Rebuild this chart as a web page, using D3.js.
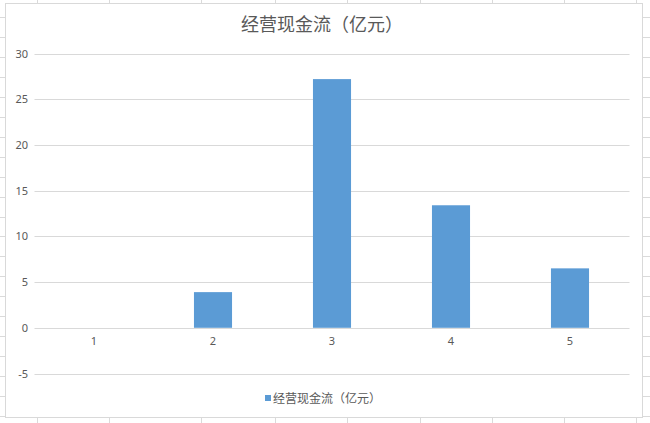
<!DOCTYPE html>
<html lang="zh">
<head>
<meta charset="UTF-8">
<title>经营现金流（亿元）</title>
<style>
  body{margin:0;background:#fff;font-family:'Noto Sans CJK SC','Noto Sans',sans-serif}
  svg{display:block}
  .cell line{stroke:#dadada;stroke-width:1}
  .grid line{stroke:#d9d9d9;stroke-width:1}
  .tick text{fill:#595959}
</style>
</head>
<body>
<div id="chart"></div>
<script src="https://cdn.jsdelivr.net/npm/d3@7"></script>
<script>
/* datos */
const categories = ["1","2","3","4","5"];
const values     = [0, 3.9, 27.2, 13.4, 6.5];
const yTicks     = [-5, 0, 5, 10, 15, 20, 25, 30];
const seriesName = "经营现金流（亿元）";

/* hoja de cálculo de fondo (decoración) */
const colLines = [37,109,201,275,347,420,492,564,636];
const rowStep  = 19.95, rowStart = 17;

const W=650, H=423;
const svg=d3.select("#chart").append("svg").attr("width",W).attr("height",H);

const cell=svg.append("g").attr("class","cell");
cell.selectAll("line.c").data(colLines).enter().append("line")
    .attr("x1",d=>d+.5).attr("x2",d=>d+.5).attr("y1",0).attr("y2",H);
cell.selectAll("line.r").data(d3.range(rowStart,H,rowStep)).enter().append("line")
    .attr("x1",0).attr("x2",W).attr("y1",d=>Math.round(d)+.5).attr("y2",d=>Math.round(d)+.5);

/* área del gráfico */
svg.append("rect").attr("x",5.5).attr("y",3.5).attr("width",637).attr("height",414)
   .attr("fill","#fff").attr("stroke","#d9d9d9");

svg.append("text").attr("x",322).attr("y",31)
   .attr("text-anchor","middle").attr("fill","#595959")
   .style("font-size","18px").text(seriesName);

/* escalas */
const x=d3.scaleBand().domain(categories).range([34.5,629.5])
          .paddingInner(0.68).paddingOuter(0.34);
const y=d3.scaleLinear().domain([-5,30]).range([373.5,53.5]);

/* rejilla */
svg.append("g").attr("class","grid")
   .selectAll("line").data(yTicks).enter().append("line")
   .attr("x1",x.range()[0]).attr("x2",x.range()[1])
   .attr("y1",d=>Math.round(y(d))+.5).attr("y2",d=>Math.round(y(d))+.5);

/* eje Y */
const yAxis=svg.append("g").attr("transform","translate(28,0)")
   .call(d3.axisLeft(y).tickValues(yTicks).tickFormat(d=>String(d))
           .tickSize(0).tickPadding(0));
yAxis.select(".domain").remove();
yAxis.selectAll("text").style("font-size","11px")
     .style("font-family","'Noto Sans','Noto Sans CJK SC',sans-serif");

/* barras */
svg.append("g").selectAll("rect").data(values).enter().append("rect")
   .attr("x",(d,i)=>x(categories[i]))
   .attr("width",x.bandwidth())
   .attr("y",d=>y(Math.max(0,d)))
   .attr("height",d=>Math.abs(y(d)-y(0)))
   .attr("fill","#5b9bd5");

/* eje X (etiquetas bajo el cero) */
const xAxis=svg.append("g").attr("transform",`translate(0,${y(0)})`)
   .call(d3.axisBottom(x).tickSize(0).tickPadding(9));
xAxis.select(".domain").remove();
xAxis.selectAll("text").style("font-size","11px")
     .style("font-family","'Noto Sans','Noto Sans CJK SC',sans-serif");

/* leyenda */
const lg=svg.append("g").attr("transform","translate(265,395)");
lg.append("rect").attr("width",6).attr("height",6).attr("fill","#5b9bd5");
lg.append("text").attr("x",8).attr("y",7.5).attr("fill","#595959")
  .style("font-size","12px").text(seriesName);
</script>
</body>
</html>
